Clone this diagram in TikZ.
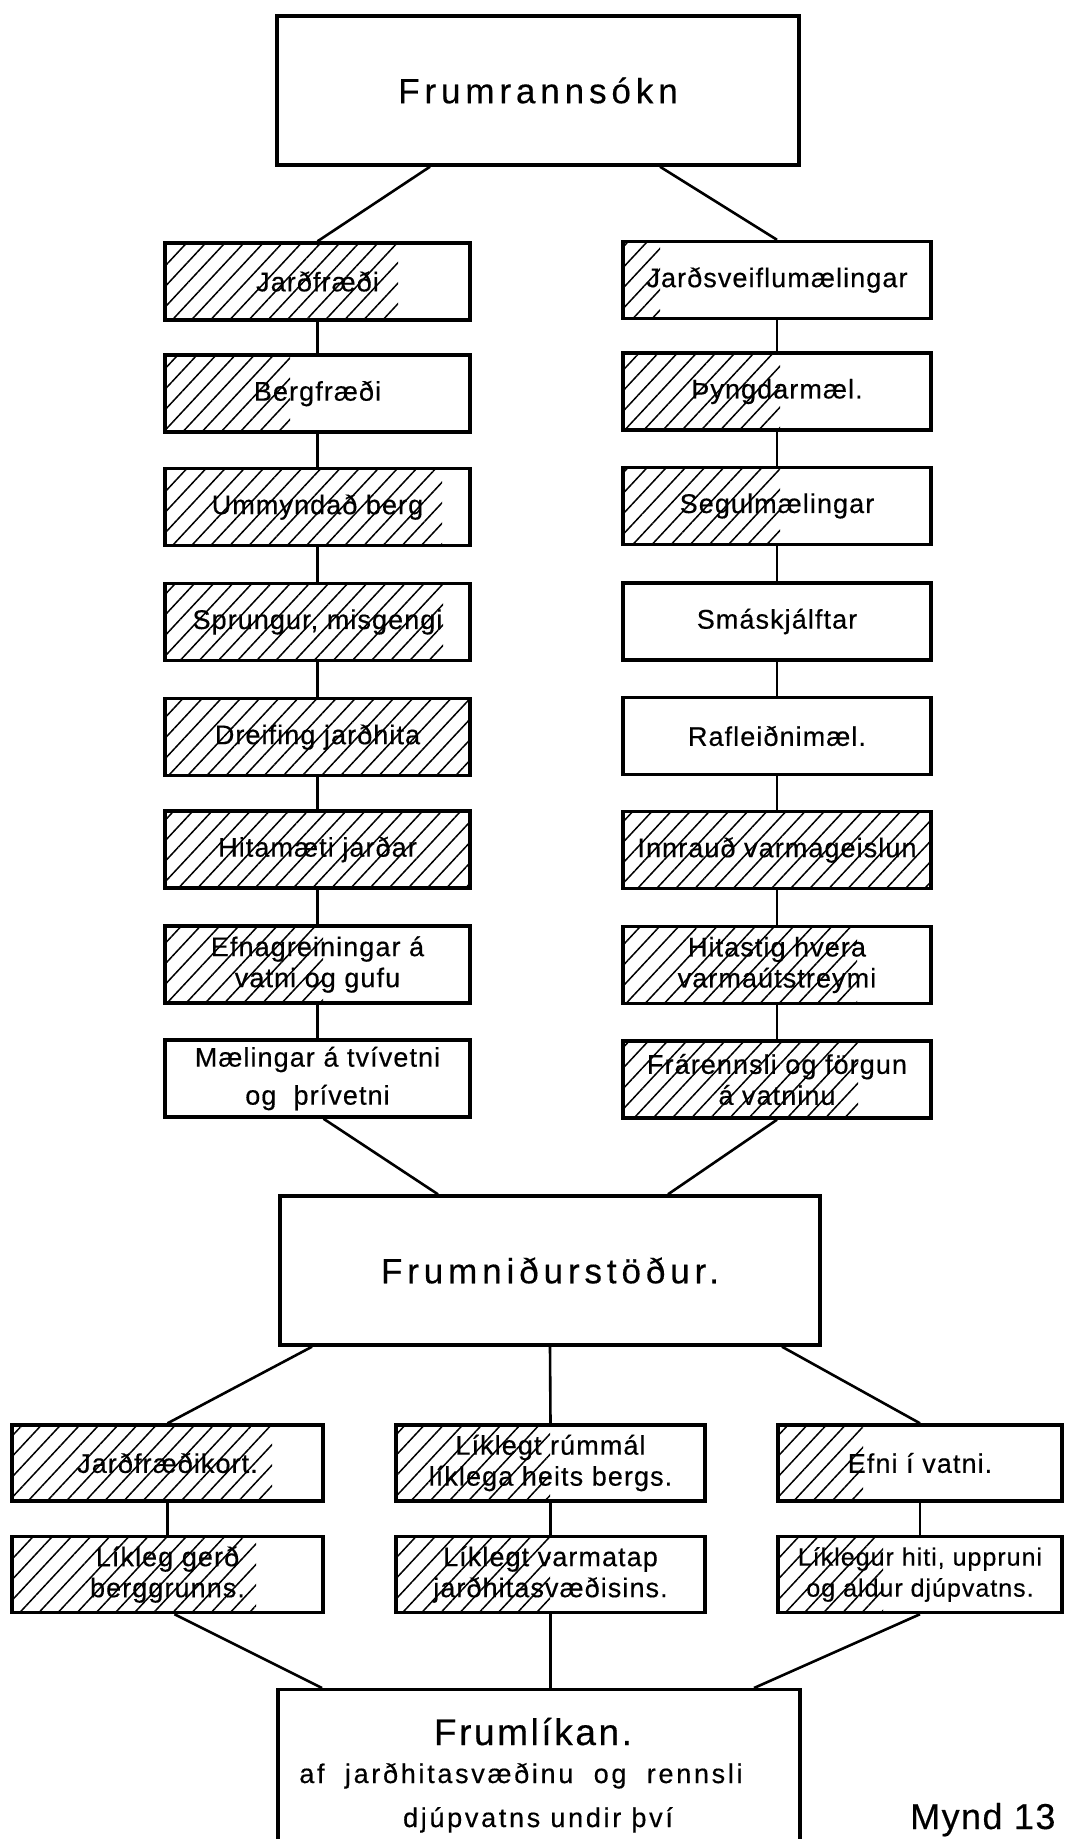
\documentclass[tikz,border=0pt]{standalone}
\usepackage{fontspec}
\setmainfont{Liberation Sans}
\newfontfamily\lbl[LetterSpace=4,FakeBold=0.4]{Liberation Sans}
\newfontfamily\sub[LetterSpace=7,FakeBold=0.4]{Liberation Sans}
\newfontfamily\wide[LetterSpace=10,FakeBold=0.4]{Liberation Sans}
\newfontfamily\ttl[LetterSpace=14,FakeBold=0.4]{Liberation Sans}
\usetikzlibrary{patterns.meta}

\tikzset{
  stage/.style={draw, fill=white, line width=3.4pt, minimum width=305pt,
    minimum height=77pt, inner sep=0pt, align=center,
    font=\lbl\fontsize{27}{31}\selectfont},
  result/.style={stage, minimum height=76pt},
  hub/.style={draw, fill=white, line width=3.4pt, inner sep=0pt,
    font=\ttl\fontsize{35}{42}\selectfont},
  link/.style={line width=2.6pt},
  hatched/.style={path picture={
    \fill[pattern={Lines[angle=47,distance=14pt,line width=1.5pt]}]
      (path picture bounding box.south west) rectangle
      ([xshift=#1]path picture bounding box.north west);}},
}

\begin{document}
\begin{tikzpicture}[x=1pt,y=-1pt]
\useasboundingbox (0,0) rectangle (1078,1839);
\clip (0,0) rectangle (1078,1839);

% first stage of the survey
\node[hub, minimum width=522pt, minimum height=149pt] (top) at (538,90.5) {Frumrannsókn};

% geology and geochemistry column
\node[stage, hatched=233pt] (L1) at (317.5,281.5) {Jarðfræði};
\node[stage, hatched=125pt] (L2) at (317.5,393.5) {Bergfræði};
\node[stage, hatched=277pt] (L3) at (317.5,507) {Ummyndað berg};
\node[stage, hatched=278pt] (L4) at (317.5,622) {Sprungur, misgengi};
\node[stage, hatched=400pt] (L5) at (317.5,737) {Dreifing jarðhita};
\node[stage, hatched=400pt] (L6) at (317.5,849.5) {Hitamæti jarðar};
\node[stage, hatched=158pt] (L7) at (317.5,964.5) {Efnagreiningar á\\vatni og gufu};
\node[stage] (L8) at (317.5,1078.5) {Mælingar á tvívetni\\[7pt]og\ \ þrívetni};

% geophysics column
\node[stage, minimum width=308pt, hatched=37pt]  (R1) at (777,280) {Jarðsveiflumælingar};
\node[stage, minimum width=308pt, hatched=157pt] (R2) at (777,391.5) {Þyngdarmæl.};
\node[stage, minimum width=308pt, hatched=157pt] (R3) at (777,506) {Segulmælingar};
\node[stage, minimum width=308pt] (R4) at (777,621.5) {Smáskjálftar};
\node[stage, minimum width=308pt] (R5) at (777,736) {Rafleiðnimæl.};
\node[stage, minimum width=308pt, hatched=400pt] (R6) at (777,850) {Innrauð varmageislun};
\node[stage, minimum width=308pt, hatched=234pt] (R7) at (777,965) {Hitastig hvera\\varmaútstreymi};
\node[stage, minimum width=308pt, hatched=235pt] (R8) at (777,1079.5) {Frárennsli og förgun\\á vatninu};

% first results
\node[hub, minimum width=540pt, minimum height=149pt] (mid) at (550,1270.5) {Frumniðurstöður.};

% results row
\node[result, minimum width=311pt, hatched=260pt] (BL1) at (167.5,1463) {Jarðfræðikort.};
\node[result, minimum width=311pt, hatched=244pt] (BL2) at (167.5,1574.5) {Líkleg gerð\\berggrunns.};
\node[result, minimum width=309pt, hatched=154pt] (BM1) at (550.5,1463) {Líklegt rúmmál\\líklega heits bergs.};
\node[result, minimum width=309pt, hatched=154pt] (BM2) at (550.5,1574.5) {Líklegt varmatap\\jarðhitasvæðisins.};
\node[result, minimum width=284pt, hatched=85pt]  (BR1) at (920,1463) {Efni í vatni.};
\node[result, minimum width=284pt, hatched=105pt, font=\lbl\fontsize{25}{31}\selectfont] (BR2) at (920,1574.5) {Líklegur hiti, uppruni\\og aldur djúpvatns.};

% preliminary model
\node[draw, fill=white, line width=3.4pt, minimum width=522pt, minimum height=240pt,
      inner sep=0pt, anchor=north] (model) at (539,1688) {};
\node[anchor=base, inner sep=0pt, font=\sub\fontsize{37}{42}\selectfont] (modelA) at (533,1745) {Frumlíkan.};
\node[anchor=base, inner sep=0pt, font=\wide\fontsize{27}{31}\selectfont] (modelB) at (521,1783) {af\ \ jarðhitasvæðinu\ \ og\ \ rennsli};
\node[anchor=base, inner sep=0pt, font=\wide\fontsize{27}{31}\selectfont] (modelC) at (538,1827) {djúpvatns undir því};

% figure number
\node[anchor=base west, inner sep=0pt, font=\lbl\fontsize{36}{40}\selectfont] (fig) at (910,1829) {Mynd 13};

% connectors
\draw[link] ([xshift=-108pt]top.south) -- (L1.north);
\draw[link] ([xshift=122pt]top.south) -- (R1.north);
\foreach \a/\b in {1/2,2/3,3/4,4/5,5/6,6/7,7/8}{
  \draw[link] (L\a.south) -- (L\b.north);
  \draw[link] (R\a.south) -- (R\b.north);
}
\draw[link] ([xshift=6pt]L8.south) -- ([xshift=-112pt]mid.north);
\draw[link] (R8.south) -- ([xshift=118pt]mid.north);
\draw[link] ([xshift=-238pt]mid.south) -- (BL1.north);
\draw[link] (mid.south) -- (BM1.north);
\draw[link] ([xshift=232pt]mid.south) -- (BR1.north);
\draw[link] (BL1.south) -- (BL2.north);
\draw[link] (BM1.south) -- (BM2.north);
\draw[link] (BR1.south) -- (BR2.north);
\draw[link] ([xshift=7pt]BL2.south) -- ([xshift=-217pt]model.north);
\draw[link] (BM2.south) -- (BM2.south |- model.north);
\draw[link] (BR2.south) -- ([xshift=215pt]model.north);
\end{tikzpicture}
\end{document}
